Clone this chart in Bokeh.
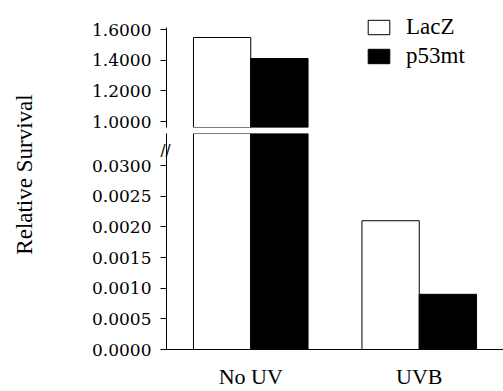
import math
from bokeh.plotting import figure
from bokeh.models import (ColumnDataSource, FactorRange, Range1d, FixedTicker,
                          Label, Legend, LegendItem, LinearAxis, CDSView,
                          BooleanFilter)
from bokeh.transform import dodge
from bokeh.layouts import column, row
from bokeh.embed import file_html
from bokeh.resources import INLINE

# ---- data ----
categories = ["No UV", "UVB"]
series_names = ["LacZ", "p53mt"]
lacz = [1.548, 0.0021]
p53mt = [1.411, 0.0009]
top_ticks = [1.0, 1.2, 1.4, 1.6]
top_tick_labels = ["1.0000", "1.2000", "1.4000", "1.6000"]
bottom_ticks = [0.0, 0.0005, 0.0010, 0.0015, 0.0020, 0.0025, 0.0030]
bottom_tick_labels = ["0.0000", "0.0005", "0.0010", "0.0015", "0.0020", "0.0025", "0.0300"]
y_label = "Relative Survival"

src = ColumnDataSource(dict(cat=categories, lacz=lacz, p53mt=p53mt))

TITLE_W = 40
W = 463
LEFT = 126
SERIF = "Liberation Serif"
TICKFONT = "DejaVu Serif"

x_range = FactorRange(*categories, range_padding=0)
top_range = Range1d(0.961, 1.724)
bot_range = Range1d(0, 0.003523)


def style_y(p, ticks, labels, bounds=None):
    ax = p.yaxis[0]
    ax.ticker = FixedTicker(ticks=ticks)
    ax.major_label_overrides = {t: l for t, l in zip(ticks, labels)}
    ax.major_label_text_font = TICKFONT
    ax.major_label_text_font_size = "17px"
    ax.major_label_text_color = "black"
    ax.major_tick_out = 6
    ax.major_tick_in = 0
    ax.minor_tick_out = 0
    ax.minor_tick_in = 0
    ax.major_label_standoff = 9
    ax.axis_line_color = "black"
    ax.major_tick_line_color = "black"
    if bounds is not None:
        ax.bounds = bounds


def add_bars(p, views=(None, None)):
    kw1 = dict(view=views[0]) if views[0] is not None else {}
    kw2 = dict(view=views[1]) if views[1] is not None else {}
    r1 = p.vbar(x=dodge("cat", -0.17, range=x_range), top="lacz", width=0.34,
                source=src, fill_color="white", line_color="black", line_width=1,
                **kw1)
    r2 = p.vbar(x=dodge("cat", 0.17, range=x_range), top="p53mt", width=0.34,
                source=src, fill_color="black", line_color="black", line_width=1,
                **kw2)
    return r1, r2


# ---- title strip on the left ----
tfig = figure(width=TITLE_W, height=391, x_range=Range1d(0, 1), y_range=Range1d(0, 1),
              output_backend="svg", toolbar_location=None,
              x_axis_location=None, y_axis_location=None,
              min_border=0)
tfig.outline_line_color = None
tfig.grid.visible = False
tfig.add_layout(Label(x=24, y=391 - 174, x_units="screen", y_units="screen",
                      text=y_label, angle=math.pi / 2, text_align="center",
                      text_baseline="middle", text_font=SERIF,
                      text_font_size="23px", text_color="black"))

# ---- top panel (only bars that reach its range) ----
top = figure(x_range=x_range, y_range=top_range, width=W, height=133,
             output_backend="svg", toolbar_location=None, x_axis_location=None,
             min_border_left=LEFT, min_border_right=0, min_border_top=10,
             min_border_bottom=6)
top.outline_line_color = None
top.grid.visible = False
views = (CDSView(filter=BooleanFilter([v >= top_range.start for v in lacz])),
         CDSView(filter=BooleanFilter([v >= top_range.start for v in p53mt])))
t1, t2 = add_bars(top, views)
style_y(top, top_ticks, top_tick_labels, bounds=(top_range.start, 1.612))

legend = Legend(items=[LegendItem(label=series_names[0], renderers=[t1]),
                       LegendItem(label=series_names[1], renderers=[t2])],
                location=(199, 58), padding=0, margin=0, spacing=3,
                glyph_width=27, glyph_height=18, label_height=18,
                label_standoff=14, label_text_font=SERIF,
                label_text_font_size="23px", label_text_color="black",
                background_fill_alpha=0, border_line_alpha=0)
top.add_layout(legend, "center")

# ---- bottom panel ----
bot = figure(x_range=x_range, y_range=bot_range, width=W, height=258,
             output_backend="svg", toolbar_location=None,
             min_border_left=LEFT, min_border_right=0, min_border_top=0,
             min_border_bottom=41)
bot.outline_line_color = None
bot.grid.visible = False
add_bars(bot)
style_y(bot, bottom_ticks, bottom_tick_labels)

# axis-break mark drawn as a tick label of an auxiliary axis
brk_at = bot_range.end * 0.999
brk = LinearAxis(ticker=FixedTicker(ticks=[brk_at]),
                 major_label_overrides={brk_at: "//"},
                 axis_line_alpha=0, major_tick_out=0, major_tick_in=0,
                 minor_tick_out=0, minor_tick_in=0,
                 major_label_standoff=-81, major_label_text_align="center",
                 major_label_text_baseline="middle",
                 major_label_text_font="DejaVu Sans",
                 major_label_text_font_size="15px",
                 major_label_text_color="black")
bot.add_layout(brk, "left")

xa = bot.xaxis[0]
xa.major_tick_out = 0
xa.major_tick_in = 0
xa.minor_tick_out = 0
xa.axis_line_color = "black"
xa.major_label_text_font = SERIF
xa.major_label_text_font_size = "22px"
xa.major_label_text_color = "black"
xa.major_label_standoff = 14

layout = row(tfig, column(top, bot, spacing=0), spacing=0)
open("out.html", "w").write(file_html(layout, INLINE))
